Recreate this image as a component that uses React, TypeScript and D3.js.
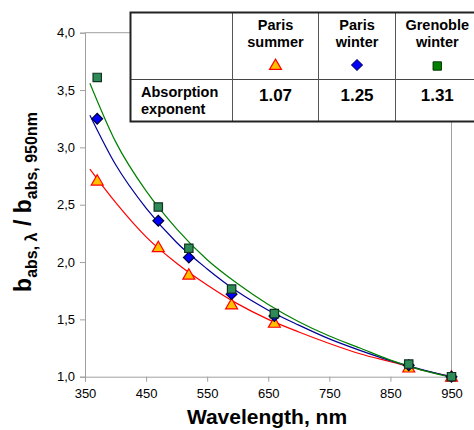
import React, { useEffect, useRef } from 'react';
import * as d3 from 'd3';

// measured points
const wavelengths = [370, 470, 520, 590, 660, 880, 950];
const parisSummer = [2.71, 2.13, 1.89, 1.63, 1.47, 1.08, 1.0];
const parisWinter = [3.25, 2.36, 2.04, 1.72, 1.53, 1.1, 1.0];
const grenobleWinter = [3.61, 2.48, 2.12, 1.765, 1.55, 1.11, 1.0];

// fitted power-law curves
const fitWavelengths = [358, 400, 450, 500, 550, 600, 650, 700, 750, 800, 850, 900, 950];
const fitSummer = [2.81, 2.52, 2.22, 1.99, 1.8, 1.635, 1.5, 1.39, 1.29, 1.2, 1.13, 1.06, 1.0];
const fitWinter = [3.28, 2.85, 2.47, 2.17, 1.94, 1.74, 1.58, 1.45, 1.33, 1.23, 1.14, 1.065, 1.0];
const fitGrenoble = [3.56, 3.05, 2.62, 2.29, 2.02, 1.81, 1.63, 1.48, 1.355, 1.25, 1.145, 1.06, 0.995];

const xTicks = [350, 450, 550, 650, 750, 850, 950];
const yTicks = [1.0, 1.5, 2.0, 2.5, 3.0, 3.5, 4.0];

const sites = ['Paris summer', 'Paris winter', 'Grenoble winter'];
const exponents = ['1.07', '1.25', '1.31'];

const App = () => {
  const ref = useRef(null);

  useEffect(() => {
    const width = 474;
    const height = 430;
    const font = 'Arial, "Liberation Sans", sans-serif';

    const svg = d3.select(ref.current)
      .append('svg')
      .attr('width', width)
      .attr('height', height)
      .style('position', 'absolute')
      .style('left', 0)
      .style('top', 0)
      .style('background', '#fff')
      .style('font-family', font);

    const x = d3.scaleLinear().domain([350, 950]).range([85, 451.5]);
    const y = d3.scaleLinear().domain([1, 4]).range([376.7, 32.7]);

    const comma = d3.formatLocale({ decimal: ',', thousands: '.', grouping: [3], currency: ['', ''] }).format('.1f');

    // plot frame (top and right)
    svg.append('path')
      .attr('d', `M${x(350)},${y(4)}H${x(950)}V${y(1)}`)
      .attr('fill', 'none')
      .attr('stroke', '#a0a0a0');

    const yAxis = svg.append('g')
      .attr('transform', `translate(${x(350)},0)`)
      .call(d3.axisLeft(y).tickValues(yTicks).tickFormat(comma).tickSize(5).tickPadding(5));
    const xAxis = svg.append('g')
      .attr('transform', `translate(0,${y(1)})`)
      .call(d3.axisBottom(x).tickValues(xTicks).tickSize(5).tickPadding(7));
    [yAxis, xAxis].forEach(a => {
      a.select('.domain').attr('stroke', '#a0a0a0');
      a.selectAll('line').attr('stroke', '#a0a0a0');
      a.selectAll('text').attr('font-size', 13).attr('font-family', font).attr('fill', '#000');
    });

    const series = [
      { fit: fitSummer, pts: parisSummer, line: '#ff0000' },
      { fit: fitWinter, pts: parisWinter, line: '#000099' },
      { fit: fitGrenoble, pts: grenobleWinter, line: '#008000' },
    ];

    const line = d3.line()
      .x((d, i) => x(fitWavelengths[i]))
      .y(d => y(d))
      .curve(d3.curveMonotoneX);

    series.forEach(s => {
      svg.append('path')
        .attr('d', line(s.fit))
        .attr('fill', 'none')
        .attr('stroke', s.line)
        .attr('stroke-width', 1.2);
    });

    const tri = d3.symbol().type(d3.symbolTriangle).size(62);
    const sq = d3.symbol().type(d3.symbolSquare).size(70);
    const dia = d3.symbol().type(d3.symbolSquare).size(58);

    const drawMarkers = (g, pts, kind, fill, stroke) => {
      g.selectAll(null)
        .data(pts)
        .enter().append('path')
        .attr('d', kind === 'tri' ? tri() : kind === 'sq' ? sq() : dia())
        .attr('transform', (d, i) => `translate(${x(wavelengths[i])},${y(d) + (kind === 'tri' ? 1 : 0)})${kind === 'dia' ? ' rotate(45)' : ''}`)
        .attr('fill', fill)
        .attr('stroke', stroke)
        .attr('stroke-width', 1.2);
    };
    const marks = svg.append('g');
    drawMarkers(marks, parisSummer, 'tri', '#ffc000', '#ff0000');
    drawMarkers(marks, parisWinter, 'dia', '#0000ff', '#000033');
    drawMarkers(marks, grenobleWinter, 'sq', '#2e8b57', '#113322');

    // axis titles
    svg.append('text')
      .attr('x', 267)
      .attr('y', 424)
      .attr('text-anchor', 'middle')
      .attr('font-size', 21)
      .attr('font-weight', 'bold')
      .text('Wavelength, nm');

    const yt = svg.append('text')
      .attr('transform', 'translate(31,202) rotate(-90)')
      .attr('text-anchor', 'middle')
      .attr('font-weight', 'bold')
      .attr('font-size', 23);
    yt.append('tspan').text('b');
    yt.append('tspan').attr('font-size', 16).attr('dy', 6).text('abs, λ');
    yt.append('tspan').attr('dy', -6).text(' / b');
    yt.append('tspan').attr('font-size', 16).attr('dy', 6).text('abs, 950nm');

    // legend table
    const tLeft = 130.5;
    const tRight = 487;
    const tTop = 12.5;
    const tMid = 79.5;
    const tBottom = 121.5;
    const cols = [232.5, 318.5, 395.5, tRight];
    const table = svg.append('g');
    table.append('rect')
      .attr('x', tLeft).attr('y', tTop)
      .attr('width', tRight - tLeft).attr('height', tBottom - tTop)
      .attr('fill', '#fff');
    table.append('line')
      .attr('x1', tLeft).attr('x2', tRight).attr('y1', tMid).attr('y2', tMid)
      .attr('stroke', '#444').attr('stroke-width', 1);
    cols.slice(0, 3).forEach(c => {
      table.append('line')
        .attr('x1', c).attr('x2', c).attr('y1', tTop).attr('y2', tBottom)
        .attr('stroke', '#555').attr('stroke-width', 1);
    });
    table.append('rect')
      .attr('x', tLeft).attr('y', tTop)
      .attr('width', tRight - tLeft).attr('height', tBottom - tTop)
      .attr('fill', 'none')
      .attr('stroke', '#222')
      .attr('stroke-width', 2);

    table.append('text').attr('x', 141).attr('y', 97).attr('font-size', 14.5).attr('font-weight', 'bold').text('Absorption');
    table.append('text').attr('x', 141).attr('y', 114).attr('font-size', 14.5).attr('font-weight', 'bold').text('exponent');

    sites.forEach((s, i) => {
      const cx = (cols[i] + cols[i + 1]) / 2 + (i === 2 ? -4 : 0);
      const words = s.split(' ');
      words.forEach((w, j) => {
        table.append('text')
          .attr('x', cx).attr('y', 30 + j * 17)
          .attr('text-anchor', 'middle')
          .attr('font-size', 14.5)
          .attr('font-weight', 'bold')
          .text(w);
      });
      table.append('text')
        .attr('x', cx).attr('y', 101)
        .attr('text-anchor', 'middle')
        .attr('font-size', 17)
        .attr('font-weight', 'bold')
        .text(exponents[i]);
    });
    const lc = i => (cols[i] + cols[i + 1]) / 2;
    table.append('path').attr('d', tri()).attr('transform', `translate(${lc(0)},66)`).attr('fill', '#ffc000').attr('stroke', '#ff0000').attr('stroke-width', 1.2);
    table.append('path').attr('d', dia()).attr('transform', `translate(${lc(1)},65) rotate(45)`).attr('fill', '#0000ff').attr('stroke', '#000066').attr('stroke-width', 1);
    table.append('path').attr('d', sq()).attr('transform', `translate(${lc(2) - 4},66)`).attr('fill', '#008000').attr('stroke', '#003300').attr('stroke-width', 1);

    return () => {
      d3.select(ref.current).selectAll('*').remove();
    };
  }, []);

  return <div ref={ref}></div>;
};

export default App;
